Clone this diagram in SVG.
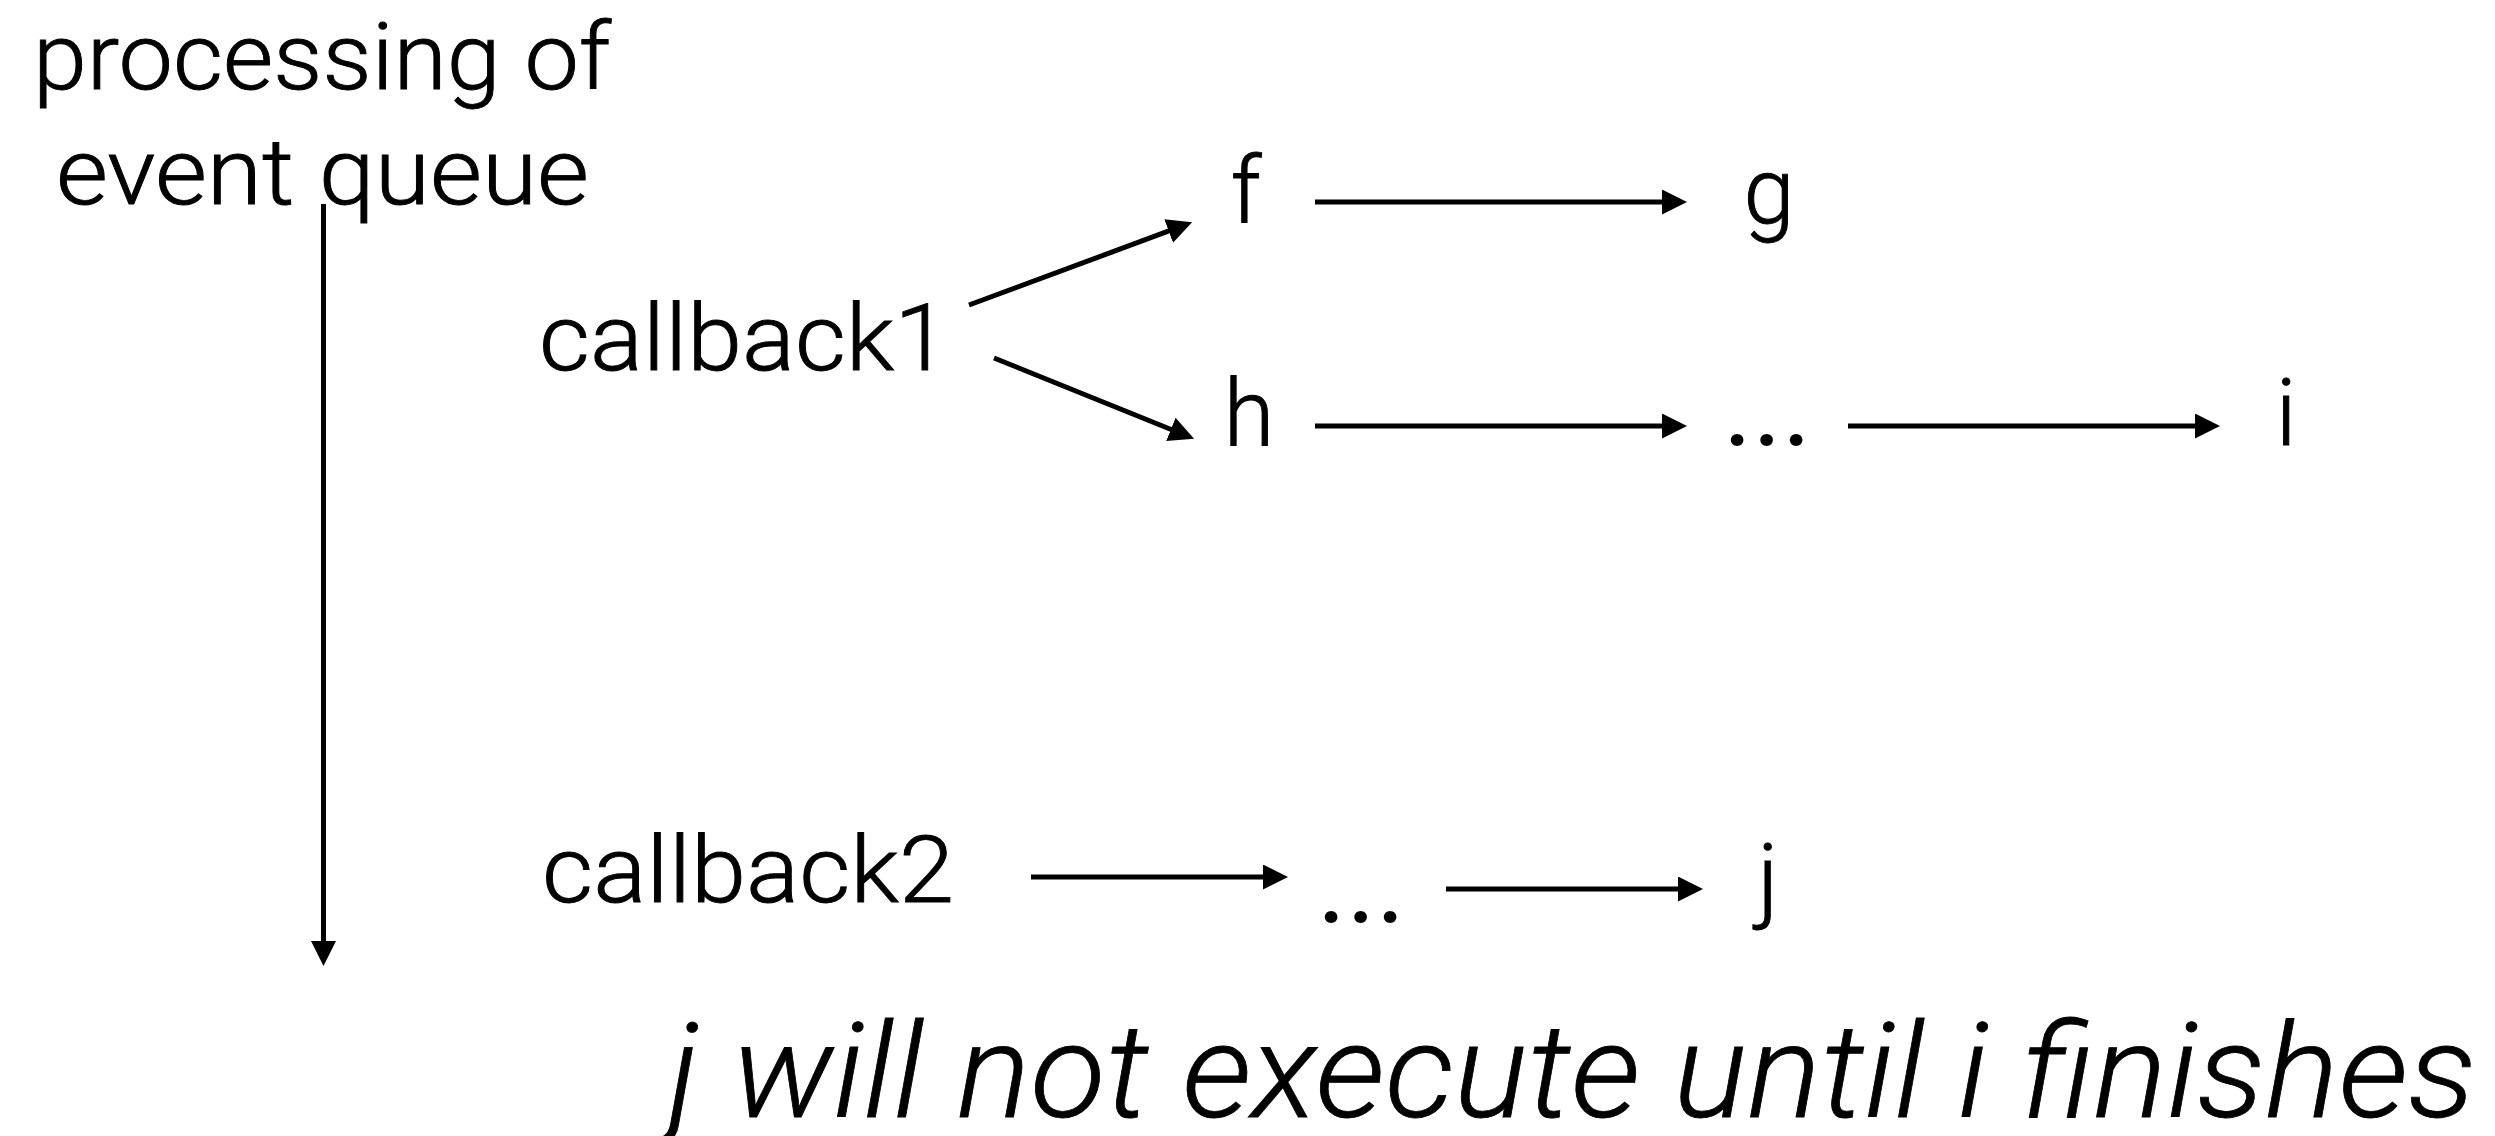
<svg xmlns="http://www.w3.org/2000/svg" width="2495" height="1136" viewBox="0 0 2495 1136">
  <style>
    .lbl { font-family: Roboto, "Liberation Sans", sans-serif; font-weight: 300; font-size: 92px; fill: #000; stroke: #000; stroke-width: 0.9; }
    .dots { font-family: Roboto, "Liberation Sans", sans-serif; font-weight: 500; font-size: 92px; fill: #000; letter-spacing: 4px; }
    .note { font-family: Roboto, "Liberation Sans", sans-serif; font-weight: 300; font-style: italic; font-size: 132px; fill: #000; stroke: #000; stroke-width: 0.8; }
    .edge { stroke: #000; stroke-width: 5; fill: none; marker-end: url(#head); }
  </style>
  <defs>
    <marker id="head" markerUnits="userSpaceOnUse" markerWidth="26" markerHeight="26" refX="1" refY="12.5" orient="auto">
      <path d="M0,0 L25,12.5 L0,25 Z" fill="#000"/>
    </marker>
  </defs>
  <rect width="2495" height="1136" fill="#fff"/>

  <!-- timeline of the event queue -->
  <g id="queue-label">
    <text class="lbl" x="33" y="89" textLength="578" lengthAdjust="spacingAndGlyphs">processing of</text>
    <text class="lbl" x="56" y="204" textLength="533" lengthAdjust="spacingAndGlyphs">event queue</text>
  </g>

  <g id="callback1"><text class="lbl" x="539" y="370" textLength="410" lengthAdjust="spacingAndGlyphs">callback1</text></g>
  <g id="f"><text class="lbl" x="1246" y="223" text-anchor="middle">f</text></g>
  <g id="g"><text class="lbl" x="1769" y="223" text-anchor="middle">g</text></g>
  <g id="h"><text class="lbl" x="1249" y="445" text-anchor="middle">h</text></g>
  <g id="dots1"><text class="dots" x="1769" y="445" text-anchor="middle">...</text></g>
  <g id="i"><text class="lbl" x="2286" y="445" text-anchor="middle">i</text></g>

  <g id="callback2"><text class="lbl" x="542" y="902" textLength="412" lengthAdjust="spacingAndGlyphs">callback2</text></g>
  <g id="dots2"><text class="dots" x="1363" y="922" text-anchor="middle">...</text></g>
  <g id="j"><text class="lbl" x="1768" y="910" text-anchor="middle">j</text></g>

  <g id="note"><text class="note" x="668" y="1117" textLength="1808" lengthAdjust="spacingAndGlyphs">j will not execute until i finishes</text></g>

  <!-- connectors: lines stop at the arrowhead base, the marker supplies the head -->
  <g id="connectors">
    <line class="edge" x1="323.5" y1="204" x2="323.5" y2="942"/>
    <line class="edge" x1="969" y1="305" x2="1169.6" y2="230.7"/>
    <line class="edge" x1="994" y1="358" x2="1171.8" y2="429.7"/>
    <line class="edge" x1="1315" y1="202" x2="1663" y2="202"/>
    <line class="edge" x1="1315" y1="426" x2="1663" y2="426"/>
    <line class="edge" x1="1848" y1="426" x2="2196" y2="426"/>
    <line class="edge" x1="1031" y1="877" x2="1264" y2="877"/>
    <line class="edge" x1="1446" y1="889" x2="1679" y2="889"/>
  </g>
</svg>
